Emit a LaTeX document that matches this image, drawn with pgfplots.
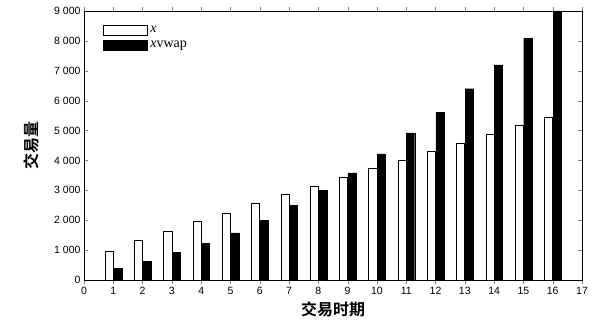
\documentclass[border=0pt]{standalone}
\usepackage{pgfplots}
\pgfplotsset{compat=1.18}
\usepackage{fontspec}
\setmainfont{Liberation Sans}
\newfontfamily\serif{Liberation Serif}
\newfontfamily\cjk[BoldFont={Noto Sans CJK SC Bold}]{Noto Sans CJK SC}
\begin{document}
\begin{tikzpicture}
\begin{axis}[
  scale only axis,
  width=498pt, height=269pt,
  xmin=0, xmax=17, ymin=0, ymax=9000,
  xtick={0,1,...,17},
  ytick={0,1000,...,9000},
  yticklabels={0,1 000,2 000,3 000,4 000,5 000,6 000,7 000,8 000,9 000},
  /pgf/number format/assume math mode=true,
  tick label style={font=\fontsize{10.5}{12}\selectfont},
  tick align=inside,
  major tick length=4pt,
  axis line style={line width=0.8pt},
  ylabel={\cjk\bfseries\fontsize{16}{18}\selectfont 交易量},
  xlabel={\cjk\bfseries\fontsize{16}{18}\selectfont 交易时期},
  ylabel style={yshift=8pt},
  xlabel style={yshift=0pt},
  ybar,
  bar width=0.28,
  legend cell align=left,
  legend style={draw=none, fill=none, at={(0.035,0.955)}, anchor=north west,
    font=\serif\fontsize{14}{14}\selectfont, row sep=3pt, inner sep=1pt,
    nodes={inner xsep=3pt}},
  legend image code/.code={\draw[#1] (-2pt,-5pt) rectangle (42pt,5pt);},
]
\addplot[draw=black, fill=white, line width=0.7pt, bar shift=-0.14] coordinates {
(1,970) (2,1320) (3,1630) (4,1950) (5,2240) (6,2560) (7,2860) (8,3140)
(9,3440) (10,3720) (11,4000) (12,4300) (13,4580) (14,4870) (15,5160) (16,5450)};
\addplot[draw=black, fill=black, bar shift=0.15] coordinates {
(1,400) (2,620) (3,920) (4,1220) (5,1580) (6,2000) (7,2500) (8,3000)
(9,3580) (10,4220) (11,4920) (12,5600) (13,6400) (14,7200) (15,8080) (16,9000)};
\legend{\textit{x},\textit{x}vwap}
\end{axis}
\path (current axis.south west) ++(-84pt,-42pt) coordinate (bbA);
\path (current axis.north east) ++(15pt,11pt) coordinate (bbB);
\path (bbA) rectangle (bbB);
\end{tikzpicture}
\end{document}
